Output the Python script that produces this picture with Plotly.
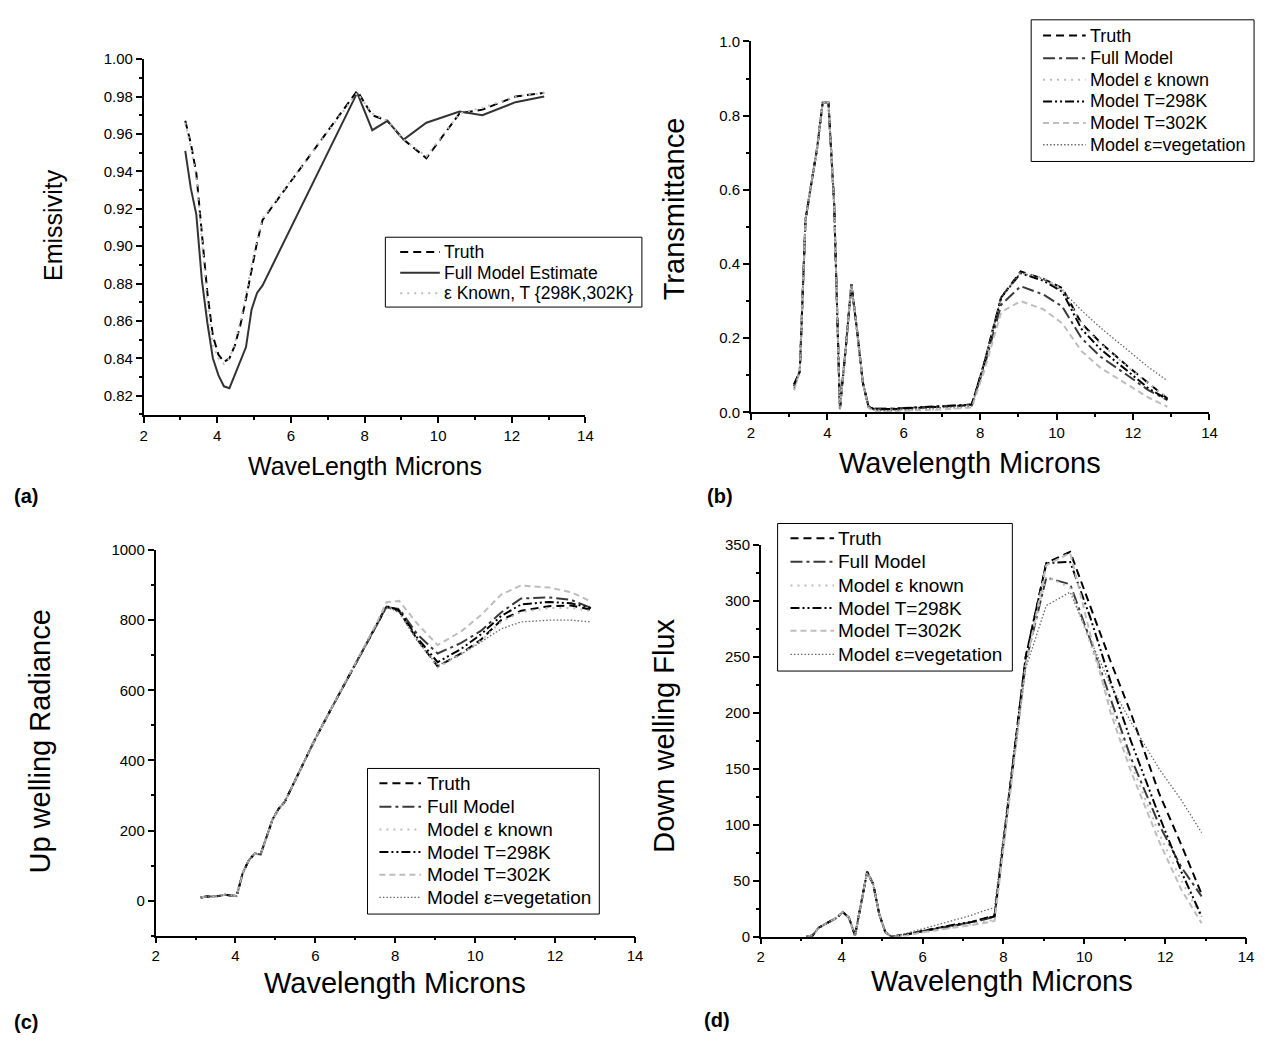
import plotly.graph_objects as go

FONT = "Liberation Sans, Arial, Helvetica, sans-serif"
W, H = 1267, 1046

# ---------------- data ----------------
# (a) Emissivity
wl_a = [3.13, 3.28, 3.43, 3.58, 3.73, 3.88, 4.03, 4.18, 4.33, 4.48, 4.63, 4.78, 4.93, 5.08, 5.23,
        7.80, 8.21, 8.62, 9.06, 9.68, 10.58, 11.20, 12.10, 12.88]
emis_truth = [0.967, 0.955, 0.939, 0.908, 0.875, 0.852, 0.842, 0.838, 0.840, 0.847, 0.858, 0.872, 0.888, 0.902, 0.914,
              0.983, 0.970, 0.967, 0.957, 0.947, 0.971, 0.973, 0.980, 0.982]
emis_full = [0.951, 0.931, 0.917, 0.882, 0.859, 0.840, 0.831, 0.825, 0.824, 0.831, 0.838, 0.846, 0.866, 0.875, 0.879,
             0.982, 0.962, 0.967, 0.957, 0.966, 0.972, 0.970, 0.977, 0.980]
emis_known = [0.966, 0.953, 0.937, 0.905, 0.870, 0.847, 0.840, 0.837, 0.840, 0.848, 0.860, 0.874, 0.890, 0.903, 0.915,
              0.982, 0.971, 0.967, 0.957, 0.948, 0.971, 0.974, 0.980, 0.982]
names_a = ["Truth", "Full Model Estimate", "\u03b5 Known, T {298K,302K}"]

# common wavelength grid for (b), (c), (d)
wl = [3.13, 3.28, 3.43, 3.58, 3.73, 3.88, 4.03, 4.18, 4.33, 4.48, 4.63, 4.78, 4.93, 5.08, 5.23,
      5.6, 6.0, 6.4, 6.8, 7.2, 7.5, 7.78,
      8.1, 8.55, 9.06, 9.65, 10.15, 10.65, 11.15, 11.85, 12.4, 12.9]

# (b) Transmittance
tau_truth = [0.070, 0.11, 0.52, 0.62, 0.71, 0.835, 0.835, 0.56, 0.010, 0.17, 0.345, 0.22, 0.08, 0.015, 0.008,
             0.008, 0.010, 0.012, 0.013, 0.015, 0.018, 0.020,
             0.13, 0.31, 0.380, 0.360, 0.335, 0.240, 0.188, 0.125, 0.078, 0.037]
tau_full = [0.075, 0.11, 0.52, 0.62, 0.71, 0.835, 0.835, 0.56, 0.010, 0.17, 0.345, 0.22, 0.08, 0.015, 0.010,
            0.010, 0.012, 0.014, 0.016, 0.017, 0.019, 0.022,
            0.12, 0.29, 0.340, 0.318, 0.285, 0.200, 0.150, 0.100, 0.060, 0.033]
tau_known = [0.060, 0.11, 0.52, 0.62, 0.71, 0.835, 0.835, 0.56, 0.008, 0.17, 0.345, 0.22, 0.08, 0.012, 0.004,
             0.003, 0.004, 0.006, 0.008, 0.010, 0.012, 0.015,
             0.13, 0.31, 0.378, 0.362, 0.333, 0.236, 0.185, 0.123, 0.078, 0.040]
tau_298 = [0.075, 0.11, 0.52, 0.62, 0.71, 0.835, 0.835, 0.56, 0.010, 0.17, 0.345, 0.22, 0.08, 0.015, 0.009,
           0.009, 0.011, 0.013, 0.015, 0.016, 0.019, 0.021,
           0.13, 0.31, 0.375, 0.355, 0.325, 0.225, 0.170, 0.112, 0.065, 0.035]
tau_302 = [0.060, 0.11, 0.52, 0.62, 0.71, 0.835, 0.835, 0.56, 0.008, 0.17, 0.345, 0.22, 0.08, 0.012, 0.004,
           0.003, 0.004, 0.005, 0.007, 0.009, 0.011, 0.013,
           0.11, 0.27, 0.300, 0.278, 0.240, 0.165, 0.120, 0.075, 0.040, 0.015]
tau_veg = [0.065, 0.11, 0.52, 0.62, 0.71, 0.835, 0.835, 0.56, 0.010, 0.17, 0.345, 0.22, 0.08, 0.014, 0.006,
           0.005, 0.007, 0.009, 0.011, 0.013, 0.015, 0.017,
           0.13, 0.31, 0.376, 0.360, 0.328, 0.275, 0.228, 0.168, 0.122, 0.085]

# (c) Up welling Radiance
rad_truth = [9, 12, 12, 13, 17, 15, 13, 78, 114, 134, 132, 182, 232, 262, 281,
             368, 462, 548, 632, 718, 778, 838,
             825, 745, 668, 705, 745, 800, 827, 840, 842, 830]
rad_full = [9, 12, 12, 13, 17, 15, 13, 78, 114, 134, 132, 182, 232, 262, 281,
            368, 462, 548, 632, 718, 778, 837,
            832, 760, 705, 735, 770, 822, 862, 865, 858, 835]
rad_known = [9, 12, 12, 13, 17, 15, 13, 78, 114, 134, 132, 182, 232, 262, 281,
             368, 462, 548, 632, 718, 778, 838,
             822, 742, 665, 703, 742, 795, 823, 835, 835, 826]
rad_298 = [9, 12, 12, 13, 17, 15, 13, 78, 114, 134, 132, 182, 232, 262, 281,
           368, 462, 548, 632, 718, 778, 840,
           828, 750, 680, 718, 760, 812, 845, 852, 848, 835]
rad_302 = [9, 12, 12, 13, 17, 15, 13, 78, 114, 134, 132, 182, 232, 262, 281,
           368, 462, 548, 634, 722, 784, 851,
           855, 790, 729, 768, 815, 873, 899, 893, 880, 853]
rad_veg = [9, 12, 12, 13, 17, 15, 13, 78, 114, 134, 132, 182, 232, 262, 281,
           368, 462, 548, 632, 718, 778, 838,
           822, 742, 670, 703, 738, 775, 795, 800, 800, 795]

# (d) Down welling Flux
flux_truth = [0, 1, 8, 11, 14, 17, 22, 17, 1, 30, 58, 47, 20, 4, 0,
              2, 5, 7, 10, 13, 16, 19,
              115, 250, 334, 344, 295, 246, 200, 128, 82, 38]
flux_full = [0, 1, 8, 11, 14, 17, 22, 17, 1, 30, 58, 47, 20, 4, 0,
             2, 5, 8, 10, 13, 15, 18,
             112, 245, 321, 315, 265, 212, 160, 100, 62, 36]
flux_known = [0, 1, 8, 11, 14, 17, 22, 17, 1, 30, 58, 47, 20, 4, 0,
              1, 4, 6, 9, 11, 13, 15,
              110, 245, 322, 312, 262, 206, 155, 92, 50, 17]
flux_298 = [0, 1, 8, 11, 14, 17, 22, 17, 1, 30, 58, 47, 20, 4, 0,
            2, 5, 8, 11, 13, 16, 18,
            115, 250, 334, 335, 285, 228, 175, 108, 58, 18]
flux_302 = [0, 1, 8, 11, 14, 17, 22, 17, 1, 30, 58, 47, 20, 4, 0,
            1, 4, 6, 8, 10, 12, 14,
            108, 242, 332, 343, 270, 200, 148, 85, 42, 12]
flux_veg = [0, 1, 8, 11, 14, 17, 22, 17, 1, 30, 58, 47, 20, 4, 0,
            3, 7, 11, 15, 19, 23, 26,
            120, 240, 296, 308, 265, 225, 192, 150, 122, 93]

names6 = ["Truth", "Full Model", "Model \u03b5 known", "Model T=298K", "Model T=302K", "Model \u03b5=vegetation"]

# ---------------- styles ----------------
STY = [
    dict(color="black", width=2, dash="8px,5px"),
    dict(color="#3a3a3a", width=2, dash="12px,4px,3px,4px"),
    dict(color="#bdbdbd", width=2, dash="2px,5px"),
    dict(color="black", width=2, dash="9px,3px,2px,3px,2px,3px"),
    dict(color="#bdbdbd", width=2, dash="6px,4px"),
    dict(color="#6a6a6a", width=1.3, dash="1.5px,2px"),
]
STY_A = [
    dict(color="black", width=2, dash="8px,5px"),
    dict(color="#333333", width=2),
    dict(color="#bdbdbd", width=2, dash="2px,5px"),
]

fig = go.Figure()

# panel a
for nm, ys, st in zip(names_a, [emis_truth, emis_full, emis_known], STY_A):
    fig.add_trace(go.Scatter(x=wl_a, y=ys, mode="lines", name=nm, line=st,
                             xaxis="x", yaxis="y", showlegend=False))

panels = [
    ("x2", "y2", [tau_truth, tau_full, tau_known, tau_298, tau_302, tau_veg]),
    ("x3", "y3", [rad_truth, rad_full, rad_known, rad_298, rad_302, rad_veg]),
    ("x4", "y4", [flux_truth, flux_full, flux_known, flux_298, flux_302, flux_veg]),
]
for xa, ya, series in panels:
    for nm, ys, st in zip(names6, series, STY):
        fig.add_trace(go.Scatter(x=wl, y=ys, mode="lines", name=nm, line=st,
                                 xaxis=xa, yaxis=ya, showlegend=False))


def px_x(p):
    return p / W


def px_y(p):
    return 1 - p / H


def ax(**kw):
    d = dict(showline=True, linecolor="black", linewidth=1.5, ticks="outside", ticklen=6,
             tickwidth=1.5, tickcolor="black", showgrid=False, zeroline=False,
             tickfont=dict(family=FONT, size=15, color="black"))
    d.update(kw)
    return d


def minor(dt, t0):
    return dict(ticks="outside", ticklen=3, tickwidth=1.5, tickcolor="black", dtick=dt, tick0=t0)


def xax(dom, anchor):
    return ax(domain=dom, anchor=anchor, range=[2, 14], tick0=2, dtick=2, minor=minor(1, 2))


fig.update_layout(
    width=W, height=H, margin=dict(l=0, r=0, t=0, b=0),
    paper_bgcolor="white", plot_bgcolor="white", showlegend=False,
    font=dict(family=FONT, color="black"),
    xaxis=xax([px_x(141), px_x(587)], "y"),
    yaxis=ax(domain=[px_y(413), px_y(51)], anchor="x", range=[0.8095, 1.0], tick0=0.82, dtick=0.02,
             tickformat=".2f", minor=minor(0.01, 0.82)),
    xaxis2=xax([px_x(754), px_x(1217)], "y2"),
    yaxis2=ax(domain=[px_y(410), px_y(33)], anchor="x2", range=[0, 1.0], tick0=0, dtick=0.2,
              tickformat=".1f", minor=minor(0.1, 0)),
    xaxis3=xax([px_x(153), px_x(637)], "y3"),
    yaxis3=ax(domain=[px_y(942), px_y(550)], anchor="x3", range=[-100, 1000], tick0=0, dtick=200,
              minor=minor(100, 0)),
    xaxis4=xax([px_x(764), px_x(1254)], "y4"),
    yaxis4=ax(domain=[px_y(943), px_y(545)], anchor="x4", range=[0, 350], tick0=0, dtick=50,
              minor=minor(25, 0)),
)


def ann(text, x, y, size, angle=0, bold=False, xanchor="center"):
    fig.add_annotation(text=f"<b>{text}</b>" if bold else text, x=px_x(x), y=px_y(y),
                       xref="paper", yref="paper", showarrow=False, textangle=angle,
                       xanchor=xanchor, yanchor="middle", borderpad=0,
                       font=dict(family=FONT, size=size, color="black"))


def legend_box(box, rows, sx0, sx1, tx, names, styles, size):
    left, top, right, bottom = box
    fig.add_shape(type="rect", xref="paper", yref="paper",
                  x0=px_x(left), x1=px_x(right), y0=px_y(bottom), y1=px_y(top),
                  line=dict(color="black", width=1), fillcolor="white", layer="above")
    for nm, st, ry in zip(names, styles, rows):
        fig.add_shape(type="line", xref="paper", yref="paper",
                      x0=px_x(sx0), x1=px_x(sx1), y0=px_y(ry), y1=px_y(ry),
                      line=st, layer="above")
        ann(nm, tx, ry, size, xanchor="left")


legend_box((385, 232, 644, 303), [247, 268, 289], 400, 440, 443, names_a, STY_A, 17.5)
legend_box((1037, 11, 1262, 155), [27, 50, 72, 94, 116, 138], 1049, 1092, 1095, names6, STY, 18)
legend_box((367, 772, 601, 920), [787, 811, 834, 857, 880, 903], 379, 421, 426, names6, STY, 19)
legend_box((781, 523, 1018, 673), [538, 562, 586, 609, 632, 656], 794, 838, 841, names6, STY, 19)

# axis titles
ann("Emissivity", 50, 220, 25, angle=-90)
ann("WaveLength Microns", 364, 465, 25)
ann("Transmittance", 676, 203, 29, angle=-90)
ann("Wavelength Microns", 975, 462, 29)
ann("Up welling Radiance", 36, 745, 29, angle=-90)
ann("Wavelength Microns", 395, 990, 29)
ann("Down welling Flux", 666, 739, 29, angle=-90)
ann("Wavelength Microns", 1008, 988, 29)

# panel labels
ann("(a)", 22, 495, 20, bold=True)
ann("(b)", 723, 495, 20, bold=True)
ann("(c)", 22, 1030, 20, bold=True)
ann("(d)", 720, 1028, 20, bold=True)

fig.write_html("out.html")
